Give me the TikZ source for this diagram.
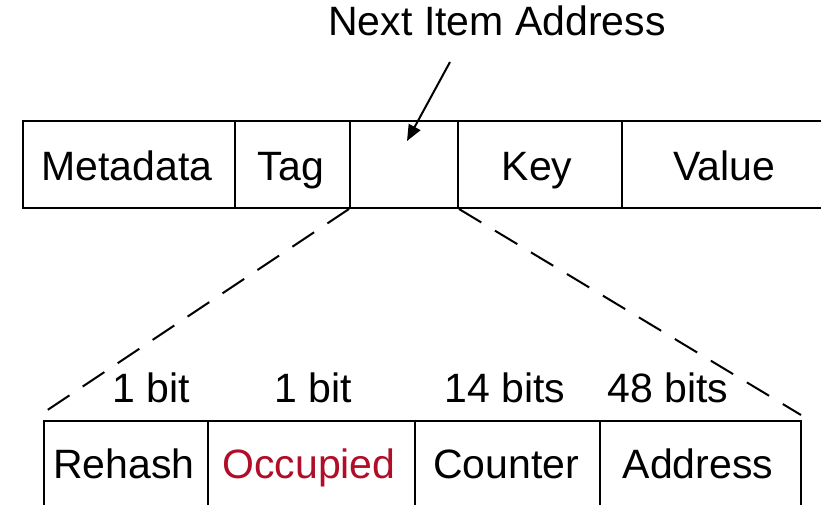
\documentclass[tikz,border=0pt]{standalone}
\usepackage{fontspec}
\setmainfont{Liberation Sans}
\usetikzlibrary{arrows.meta}
\definecolor{occred}{RGB}{176,14,40}
\begin{document}
\begin{tikzpicture}[x=1pt,y=-1pt,
  cell/.style={draw, line width=2pt, inner sep=0pt, anchor=north west},
  lbl/.style={inner sep=0pt, anchor=base, font=\fontsize{41}{44}\selectfont},
  dashlink/.style={line width=2pt, dash pattern=on 26pt off 16pt},
  ptr/.style={line width=2pt, -{Triangle[length=16pt,width=13pt]}}]
\useasboundingbox (0,0) rectangle (821,505);
\clip (0,0) rectangle (821,505);
% top row
\node[cell, minimum width=212pt, minimum height=87pt] (meta) at (22,120) {};
\node[cell, minimum width=115pt, minimum height=87pt] (tag) at (234,120) {};
\node[cell, minimum width=108pt, minimum height=87pt] (next) at (349,120) {};
\node[cell, minimum width=164pt, minimum height=87pt] (key) at (457,120) {};
\node[cell, minimum width=210pt, minimum height=87pt] (value) at (621,120) {};
\node[lbl] (metatxt) at (127,180) {Metadata};
\node[lbl] (tagtxt) at (291,180) {Tag};
\node[lbl] (keytxt) at (537,180) {Key};
\node[lbl] (valuetxt) at (724,180) {Value};
% bottom row
\node[cell, minimum width=164pt, minimum height=100pt] (rehash) at (43,420) {};
\node[cell, minimum width=207pt, minimum height=100pt] (occ) at (207,420) {};
\node[cell, minimum width=185pt, minimum height=100pt] (counter) at (414,420) {};
\node[cell, minimum width=201pt, minimum height=100pt] (address) at (599,420) {};
\node[lbl] (rehashtxt) at (124,478) {Rehash};
\node[lbl, text=occred] (occtxt) at (309,478) {Occupied};
\node[lbl] (countertxt) at (506,478) {Counter};
\node[lbl] (addresstxt) at (698,478) {Address};
% bit widths
\node[lbl] (b1) at (151,402) {1 bit};
\node[lbl] (b2) at (313,402) {1 bit};
\node[lbl] (b3) at (505,402) {14 bits};
\node[lbl] (b4) at (668,402) {48 bits};
% title and pointer
\node[lbl] (title) at (497,36) {Next Item Address};
\coordinate (ptrstart) at (450,62);
\coordinate (ptrend) at (407,141);
\draw[ptr] (ptrstart) -- (ptrend);
% zoom lines
\coordinate (zl) at (40,415);
\coordinate (zr) at (801,415);
\draw[dashlink] (next.south west) -- (zl);
\draw[dashlink] (next.south east) -- (zr);
\end{tikzpicture}
\end{document}
